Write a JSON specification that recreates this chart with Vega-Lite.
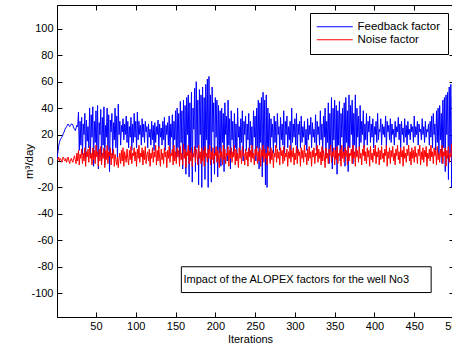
{
"$schema":"https://vega.github.io/schema/vega-lite/v6.json",
"width":397,"height":312,
"autosize":{"type":"none"},
"padding":{"left":57,"top":5,"right":0,"bottom":32},
"background":"white",
"config":{"view":{"stroke":"black","strokeWidth":1},"font":"Liberation Sans",
 "axis":{"grid":false,"tickSize":-5,"tickColor":"black","domainColor":"black","labelColor":"black","labelFontSize":11,"titleColor":"black","titleFontSize":11,"titleFontWeight":"normal","labelPadding":9,"labelFlush":false,"labelExpr":"'' + datum.value"},
 "legend":{"orient":"none","legendX":253,"legendY":8,"strokeColor":"black","fillColor":"white","padding":8,"labelFontSize":11.5,"labelColor":"black","symbolType":"M-7,0H29","symbolSize":4,"symbolStrokeWidth":1,"labelOffset":28,"rowPadding":0}},
"data":{"values":[
{"i":1,"f":1,"n":2},{"i":2,"f":6,"n":1},{"i":3,"f":11,"n":3},{"i":4,"f":14,"n":0},{"i":5,"f":16,"n":2},{"i":6,"f":17,"n":1},{"i":7,"f":18,"n":-1},{"i":8,"f":19,"n":2},{"i":9,"f":21,"n":3},{"i":10,"f":22,"n":1},
{"i":11,"f":24,"n":0},{"i":12,"f":25,"n":2},{"i":13,"f":26,"n":-1},{"i":14,"f":27,"n":1},{"i":15,"f":28,"n":3},{"i":16,"f":27,"n":0},{"i":17,"f":26,"n":-2},{"i":18,"f":27,"n":1},{"i":19,"f":28,"n":2},{"i":20,"f":28,"n":0},
{"i":21,"f":27,"n":-1},{"i":22,"f":25,"n":2},{"i":23,"f":24,"n":4},{"i":24,"f":23,"n":1},{"i":25,"f":25,"n":-2},{"i":26,"f":27,"n":6},{"i":27,"f":26,"n":0},{"i":28,"f":37,"n":8},{"i":29,"f":8,"n":-3},{"i":30,"f":30,"n":5},
{"i":31,"f":12,"n":2},{"i":32,"f":33,"n":9},{"i":33,"f":5,"n":-2},{"i":34,"f":28,"n":6},{"i":35,"f":20,"n":0},{"i":36,"f":36,"n":10},{"i":37,"f":2,"n":-4},{"i":38,"f":31,"n":7},{"i":39,"f":15,"n":3},{"i":40,"f":26,"n":9},
{"i":41,"f":10,"n":-1},{"i":42,"f":40,"n":11},{"i":43,"f":3,"n":2},{"i":44,"f":35,"n":6},{"i":45,"f":18,"n":-3},{"i":46,"f":41,"n":10},{"i":47,"f":-4,"n":1},{"i":48,"f":30,"n":8},{"i":49,"f":14,"n":-2},{"i":50,"f":38,"n":12},
{"i":51,"f":6,"n":3},{"i":52,"f":42,"n":7},{"i":53,"f":-6,"n":-4},{"i":54,"f":29,"n":9},{"i":55,"f":20,"n":0},{"i":56,"f":39,"n":11},{"i":57,"f":0,"n":-3},{"i":58,"f":33,"n":6},{"i":59,"f":12,"n":2},{"i":60,"f":41,"n":10},
{"i":61,"f":-3,"n":-5},{"i":62,"f":27,"n":8},{"i":63,"f":18,"n":1},{"i":64,"f":40,"n":12},{"i":65,"f":8,"n":-2},{"i":66,"f":35,"n":7},{"i":67,"f":-8,"n":4},{"i":68,"f":31,"n":10},{"i":69,"f":22,"n":-3},{"i":70,"f":36,"n":6},
{"i":71,"f":4,"n":2},{"i":72,"f":29,"n":9},{"i":73,"f":16,"n":-4},{"i":74,"f":40,"n":5},{"i":75,"f":10,"n":1},{"i":76,"f":34,"n":-3},{"i":77,"f":2,"n":3},{"i":78,"f":43,"n":-5},{"i":79,"f":20,"n":2},{"i":80,"f":30,"n":6},
{"i":81,"f":12,"n":-2},{"i":82,"f":27,"n":8},{"i":83,"f":22,"n":0},{"i":84,"f":32,"n":10},{"i":85,"f":16,"n":-4},{"i":86,"f":28,"n":7},{"i":87,"f":20,"n":3},{"i":88,"f":34,"n":-1},{"i":89,"f":14,"n":9},{"i":90,"f":30,"n":2},
{"i":91,"f":10,"n":-3},{"i":92,"f":26,"n":8},{"i":93,"f":18,"n":1},{"i":94,"f":33,"n":11},{"i":95,"f":8,"n":-2},{"i":96,"f":28,"n":6},{"i":97,"f":14,"n":4},{"i":98,"f":36,"n":10},{"i":99,"f":18,"n":0},{"i":100,"f":30,"n":7},
{"i":101,"f":10,"n":-4},{"i":102,"f":37,"n":9},{"i":103,"f":16,"n":2},{"i":104,"f":30,"n":12},{"i":105,"f":20,"n":-1},{"i":106,"f":27,"n":6},{"i":107,"f":12,"n":3},{"i":108,"f":32,"n":10},{"i":109,"f":18,"n":-3},{"i":110,"f":28,"n":8},
{"i":111,"f":14,"n":1},{"i":112,"f":30,"n":11},{"i":113,"f":22,"n":-2},{"i":114,"f":26,"n":5},{"i":115,"f":10,"n":7},{"i":116,"f":28,"n":0},{"i":117,"f":18,"n":9},{"i":118,"f":24,"n":-4},{"i":119,"f":12,"n":6},{"i":120,"f":30,"n":2},
{"i":121,"f":16,"n":10},{"i":122,"f":27,"n":-1},{"i":123,"f":8,"n":7},{"i":124,"f":29,"n":3},{"i":125,"f":14,"n":12},{"i":126,"f":26,"n":-3},{"i":127,"f":20,"n":8},{"i":128,"f":31,"n":0},{"i":129,"f":10,"n":11},{"i":130,"f":28,"n":2},
{"i":131,"f":18,"n":-4},{"i":132,"f":25,"n":9},{"i":133,"f":12,"n":1},{"i":134,"f":30,"n":6},{"i":135,"f":16,"n":-2},{"i":136,"f":33,"n":10},{"i":137,"f":8,"n":3},{"i":138,"f":27,"n":7},{"i":139,"f":20,"n":-5},{"i":140,"f":29,"n":8},
{"i":141,"f":12,"n":2},{"i":142,"f":34,"n":11},{"i":143,"f":6,"n":-1},{"i":144,"f":28,"n":6},{"i":145,"f":18,"n":4},{"i":146,"f":35,"n":9},{"i":147,"f":4,"n":-3},{"i":148,"f":30,"n":12},{"i":149,"f":16,"n":0},{"i":150,"f":38,"n":7},
{"i":151,"f":2,"n":-2},{"i":152,"f":40,"n":10},{"i":153,"f":10,"n":3},{"i":154,"f":36,"n":8},{"i":155,"f":-2,"n":-4},{"i":156,"f":45,"n":11},{"i":157,"f":14,"n":1},{"i":158,"f":38,"n":6},{"i":159,"f":-6,"n":-3},{"i":160,"f":46,"n":13},
{"i":161,"f":8,"n":2},{"i":162,"f":42,"n":9},{"i":163,"f":-10,"n":-5},{"i":164,"f":48,"n":7},{"i":165,"f":20,"n":4},{"i":166,"f":50,"n":12},{"i":167,"f":-12,"n":-2},{"i":168,"f":44,"n":8},{"i":169,"f":6,"n":0},{"i":170,"f":52,"n":10},
{"i":171,"f":-16,"n":-4},{"i":172,"f":40,"n":6},{"i":173,"f":24,"n":3},{"i":174,"f":55,"n":11},{"i":175,"f":-8,"n":-1},{"i":176,"f":60,"n":9},{"i":177,"f":10,"n":5},{"i":178,"f":46,"n":-3},{"i":179,"f":-18,"n":12},{"i":180,"f":54,"n":2},
{"i":181,"f":20,"n":7},{"i":182,"f":50,"n":-2},{"i":183,"f":-20,"n":10},{"i":184,"f":56,"n":0},{"i":185,"f":4,"n":8},{"i":186,"f":48,"n":-4},{"i":187,"f":-14,"n":11},{"i":188,"f":58,"n":3},{"i":189,"f":16,"n":6},{"i":190,"f":62,"n":-1},
{"i":191,"f":-20,"n":9},{"i":192,"f":64,"n":2},{"i":193,"f":12,"n":12},{"i":194,"f":50,"n":-3},{"i":195,"f":-16,"n":7},{"i":196,"f":56,"n":1},{"i":197,"f":22,"n":10},{"i":198,"f":44,"n":-2},{"i":199,"f":-10,"n":6},{"i":200,"f":48,"n":4},
{"i":201,"f":18,"n":11},{"i":202,"f":46,"n":-1},{"i":203,"f":-12,"n":8},{"i":204,"f":42,"n":3},{"i":205,"f":6,"n":-5},{"i":206,"f":38,"n":10},{"i":207,"f":-4,"n":2},{"i":208,"f":40,"n":7},{"i":209,"f":14,"n":-3},{"i":210,"f":36,"n":12},
{"i":211,"f":-8,"n":1},{"i":212,"f":44,"n":9},{"i":213,"f":20,"n":-2},{"i":214,"f":34,"n":6},{"i":215,"f":0,"n":4},{"i":216,"f":46,"n":11},{"i":217,"f":12,"n":-4},{"i":218,"f":32,"n":8},{"i":219,"f":-6,"n":2},{"i":220,"f":38,"n":10},
{"i":221,"f":16,"n":-1},{"i":222,"f":30,"n":7},{"i":223,"f":4,"n":3},{"i":224,"f":36,"n":12},{"i":225,"f":10,"n":-3},{"i":226,"f":28,"n":9},{"i":227,"f":2,"n":0},{"i":228,"f":40,"n":6},{"i":229,"f":18,"n":-5},{"i":230,"f":26,"n":10},
{"i":231,"f":6,"n":2},{"i":232,"f":32,"n":8},{"i":233,"f":14,"n":-2},{"i":234,"f":38,"n":11},{"i":235,"f":0,"n":4},{"i":236,"f":30,"n":6},{"i":237,"f":20,"n":-3},{"i":238,"f":34,"n":9},{"i":239,"f":8,"n":1},{"i":240,"f":28,"n":7},
{"i":241,"f":16,"n":-4},{"i":242,"f":36,"n":10},{"i":243,"f":4,"n":3},{"i":244,"f":30,"n":8},{"i":245,"f":12,"n":-1},{"i":246,"f":26,"n":12},{"i":247,"f":6,"n":2},{"i":248,"f":38,"n":6},{"i":249,"f":18,"n":-3},{"i":250,"f":34,"n":9},
{"i":251,"f":0,"n":4},{"i":252,"f":40,"n":11},{"i":253,"f":10,"n":-2},{"i":254,"f":46,"n":7},{"i":255,"f":-6,"n":0},{"i":256,"f":44,"n":10},{"i":257,"f":14,"n":-4},{"i":258,"f":48,"n":8},{"i":259,"f":-12,"n":3},{"i":260,"f":52,"n":12},
{"i":261,"f":6,"n":-1},{"i":262,"f":46,"n":9},{"i":263,"f":-18,"n":2},{"i":264,"f":50,"n":6},{"i":265,"f":-20,"n":-3},{"i":266,"f":40,"n":11},{"i":267,"f":10,"n":4},{"i":268,"f":36,"n":7},{"i":269,"f":0,"n":-2},{"i":270,"f":32,"n":10},
{"i":271,"f":18,"n":1},{"i":272,"f":28,"n":8},{"i":273,"f":6,"n":-5},{"i":274,"f":34,"n":6},{"i":275,"f":14,"n":3},{"i":276,"f":30,"n":12},{"i":277,"f":10,"n":-1},{"i":278,"f":36,"n":9},{"i":279,"f":20,"n":2},{"i":280,"f":26,"n":7},
{"i":281,"f":8,"n":-3},{"i":282,"f":33,"n":10},{"i":283,"f":16,"n":4},{"i":284,"f":28,"n":8},{"i":285,"f":12,"n":-2},{"i":286,"f":38,"n":11},{"i":287,"f":6,"n":0},{"i":288,"f":30,"n":6},{"i":289,"f":20,"n":3},{"i":290,"f":34,"n":9},
{"i":291,"f":10,"n":-4},{"i":292,"f":26,"n":7},{"i":293,"f":16,"n":2},{"i":294,"f":30,"n":12},{"i":295,"f":8,"n":-1},{"i":296,"f":40,"n":8},{"i":297,"f":14,"n":3},{"i":298,"f":28,"n":10},{"i":299,"f":18,"n":-3},{"i":300,"f":32,"n":6},
{"i":301,"f":12,"n":1},{"i":302,"f":36,"n":11},{"i":303,"f":6,"n":-2},{"i":304,"f":28,"n":9},{"i":305,"f":20,"n":4},{"i":306,"f":30,"n":7},{"i":307,"f":10,"n":-4},{"i":308,"f":34,"n":10},{"i":309,"f":14,"n":2},{"i":310,"f":26,"n":8},
{"i":311,"f":18,"n":-1},{"i":312,"f":30,"n":12},{"i":313,"f":12,"n":3},{"i":314,"f":24,"n":6},{"i":315,"f":8,"n":-3},{"i":316,"f":32,"n":9},{"i":317,"f":16,"n":0},{"i":318,"f":27,"n":11},{"i":319,"f":20,"n":2},{"i":320,"f":33,"n":7},
{"i":321,"f":10,"n":-4},{"i":322,"f":29,"n":8},{"i":323,"f":18,"n":3},{"i":324,"f":24,"n":10},{"i":325,"f":14,"n":-2},{"i":326,"f":35,"n":6},{"i":327,"f":8,"n":4},{"i":328,"f":30,"n":12},{"i":329,"f":20,"n":-1},{"i":330,"f":26,"n":9},
{"i":331,"f":12,"n":2},{"i":332,"f":38,"n":7},{"i":333,"f":16,"n":-3},{"i":334,"f":28,"n":11},{"i":335,"f":6,"n":0},{"i":336,"f":34,"n":8},{"i":337,"f":18,"n":3},{"i":338,"f":40,"n":-5},{"i":339,"f":4,"n":10},{"i":340,"f":30,"n":2},
{"i":341,"f":14,"n":6},{"i":342,"f":44,"n":-2},{"i":343,"f":-2,"n":9},{"i":344,"f":36,"n":4},{"i":345,"f":10,"n":12},{"i":346,"f":48,"n":-1},{"i":347,"f":-6,"n":7},{"i":348,"f":40,"n":3},{"i":349,"f":16,"n":10},{"i":350,"f":46,"n":-3},
{"i":351,"f":2,"n":8},{"i":352,"f":42,"n":1},{"i":353,"f":-10,"n":11},{"i":354,"f":38,"n":-2},{"i":355,"f":12,"n":6},{"i":356,"f":45,"n":4},{"i":357,"f":0,"n":9},{"i":358,"f":36,"n":-4},{"i":359,"f":18,"n":12},{"i":360,"f":40,"n":2},
{"i":361,"f":6,"n":7},{"i":362,"f":44,"n":-1},{"i":363,"f":-4,"n":10},{"i":364,"f":48,"n":3},{"i":365,"f":14,"n":8},{"i":366,"f":38,"n":-3},{"i":367,"f":-8,"n":11},{"i":368,"f":50,"n":0},{"i":369,"f":10,"n":6},{"i":370,"f":42,"n":4},
{"i":371,"f":20,"n":9},{"i":372,"f":46,"n":-2},{"i":373,"f":-2,"n":12},{"i":374,"f":36,"n":2},{"i":375,"f":12,"n":7},{"i":376,"f":50,"n":-4},{"i":377,"f":4,"n":10},{"i":378,"f":40,"n":3},{"i":379,"f":18,"n":8},{"i":380,"f":34,"n":-1},
{"i":381,"f":8,"n":11},{"i":382,"f":42,"n":2},{"i":383,"f":14,"n":6},{"i":384,"f":30,"n":-3},{"i":385,"f":20,"n":9},{"i":386,"f":38,"n":4},{"i":387,"f":10,"n":12},{"i":388,"f":28,"n":0},{"i":389,"f":16,"n":7},{"i":390,"f":36,"n":-2},
{"i":391,"f":12,"n":10},{"i":392,"f":30,"n":3},{"i":393,"f":22,"n":8},{"i":394,"f":34,"n":-4},{"i":395,"f":14,"n":11},{"i":396,"f":28,"n":1},{"i":397,"f":18,"n":6},{"i":398,"f":32,"n":-1},{"i":399,"f":10,"n":9},{"i":400,"f":26,"n":4},
{"i":401,"f":20,"n":12},{"i":402,"f":30,"n":-2},{"i":403,"f":14,"n":7},{"i":404,"f":36,"n":3},{"i":405,"f":16,"n":10},{"i":406,"f":24,"n":-3},{"i":407,"f":22,"n":8},{"i":408,"f":32,"n":1},{"i":409,"f":12,"n":11},{"i":410,"f":28,"n":2},
{"i":411,"f":20,"n":6},{"i":412,"f":26,"n":-1},{"i":413,"f":18,"n":9},{"i":414,"f":34,"n":4},{"i":415,"f":10,"n":12},{"i":416,"f":30,"n":-4},{"i":417,"f":22,"n":7},{"i":418,"f":27,"n":2},{"i":419,"f":16,"n":10},{"i":420,"f":32,"n":-2},
{"i":421,"f":14,"n":8},{"i":422,"f":28,"n":3},{"i":423,"f":20,"n":11},{"i":424,"f":24,"n":0},{"i":425,"f":12,"n":6},{"i":426,"f":30,"n":-3},{"i":427,"f":18,"n":9},{"i":428,"f":26,"n":4},{"i":429,"f":22,"n":12},{"i":430,"f":33,"n":1},
{"i":431,"f":16,"n":7},{"i":432,"f":28,"n":-2},{"i":433,"f":10,"n":10},{"i":434,"f":30,"n":3},{"i":435,"f":20,"n":8},{"i":436,"f":25,"n":-4},{"i":437,"f":14,"n":11},{"i":438,"f":32,"n":2},{"i":439,"f":18,"n":6},{"i":440,"f":27,"n":-1},
{"i":441,"f":12,"n":9},{"i":442,"f":30,"n":4},{"i":443,"f":20,"n":12},{"i":444,"f":24,"n":0},{"i":445,"f":16,"n":7},{"i":446,"f":28,"n":-3},{"i":447,"f":22,"n":10},{"i":448,"f":26,"n":2},{"i":449,"f":14,"n":8},{"i":450,"f":34,"n":-1},
{"i":451,"f":18,"n":11},{"i":452,"f":26,"n":3},{"i":453,"f":20,"n":6},{"i":454,"f":30,"n":-2},{"i":455,"f":12,"n":9},{"i":456,"f":28,"n":4},{"i":457,"f":22,"n":12},{"i":458,"f":24,"n":-3},{"i":459,"f":16,"n":7},{"i":460,"f":32,"n":1},
{"i":461,"f":20,"n":10},{"i":462,"f":26,"n":-1},{"i":463,"f":14,"n":8},{"i":464,"f":30,"n":3},{"i":465,"f":18,"n":11},{"i":466,"f":24,"n":-4},{"i":467,"f":22,"n":6},{"i":468,"f":28,"n":2},{"i":469,"f":12,"n":9},{"i":470,"f":30,"n":0},
{"i":471,"f":18,"n":12},{"i":472,"f":34,"n":3},{"i":473,"f":10,"n":7},{"i":474,"f":36,"n":-2},{"i":475,"f":20,"n":10},{"i":476,"f":28,"n":4},{"i":477,"f":8,"n":8},{"i":478,"f":38,"n":-3},{"i":479,"f":14,"n":11},{"i":480,"f":40,"n":1},
{"i":481,"f":4,"n":6},{"i":482,"f":42,"n":-1},{"i":483,"f":16,"n":9},{"i":484,"f":36,"n":3},{"i":485,"f":-2,"n":12},{"i":486,"f":46,"n":-2},{"i":487,"f":10,"n":7},{"i":488,"f":48,"n":4},{"i":489,"f":-8,"n":10},{"i":490,"f":50,"n":-4},
{"i":491,"f":20,"n":8},{"i":492,"f":52,"n":2},{"i":493,"f":-14,"n":11},{"i":494,"f":56,"n":-1},{"i":495,"f":6,"n":6},{"i":496,"f":58,"n":3},{"i":497,"f":-20,"n":13},{"i":498,"f":48,"n":-2},{"i":499,"f":-16,"n":9},{"i":500,"f":40,"n":0}
]},
"layer":[
 {"transform":[{"fold":["f","n"],"as":["k","v"]}],
  "mark":{"type":"line","strokeWidth":1,"clip":true},
  "encoding":{
   "x":{"field":"i","type":"quantitative","scale":{"domain":[1,500],"nice":false,"zero":false},
        "axis":{"orient":"bottom","values":[50,100,150,200,250,300,350,400,450,500],"title":"Iterations","titlePadding":2,"labelPadding":8,"titleX":193}},
   "y":{"field":"v","type":"quantitative","scale":{"domain":[-118,118],"nice":false,"zero":false},
        "axis":{"orient":"left","values":[-100,-80,-60,-40,-20,0,20,40,60,80,100],"title":"m³/day","titlePadding":-4,"titleFontSize":11.5}},
   "color":{"field":"k","type":"nominal","scale":{"domain":["f","n"],"range":["#0000ff","#ff0000"]},
        "legend":{"title":null,"labelExpr":"datum.value == 'f' ? 'Feedback factor' : 'Noise factor'"}}
  }},
 {"data":{"values":[{"note":"Impact of the ALOPEX factors for the well No3"}]},
  "mark":{"type":"rect","fill":"white","stroke":"black","strokeWidth":1},
  "encoding":{
   "x":{"datum":157.3,"type":"quantitative","axis":{"orient":"top","labels":false,"title":null,"domain":false,"values":[50,100,150,200,250,300,350,400,450,500]}},
   "x2":{"datum":471.3},
   "y":{"datum":-80,"type":"quantitative","axis":{"orient":"right","labels":false,"title":null,"domain":false,"values":[-100,-80,-60,-40,-20,0,20,40,60,80,100]}},
   "y2":{"datum":-99.5}
  }},
 {"data":{"values":[{"note":"Impact of the ALOPEX factors for the well No3"}]},
  "mark":{"type":"text","align":"left","baseline":"middle","fontSize":11,"color":"black"},
  "encoding":{
   "x":{"datum":160,"type":"quantitative","axis":null},
   "y":{"datum":-89.7,"type":"quantitative","axis":null},
   "text":{"field":"note"}
  }}
]
}
